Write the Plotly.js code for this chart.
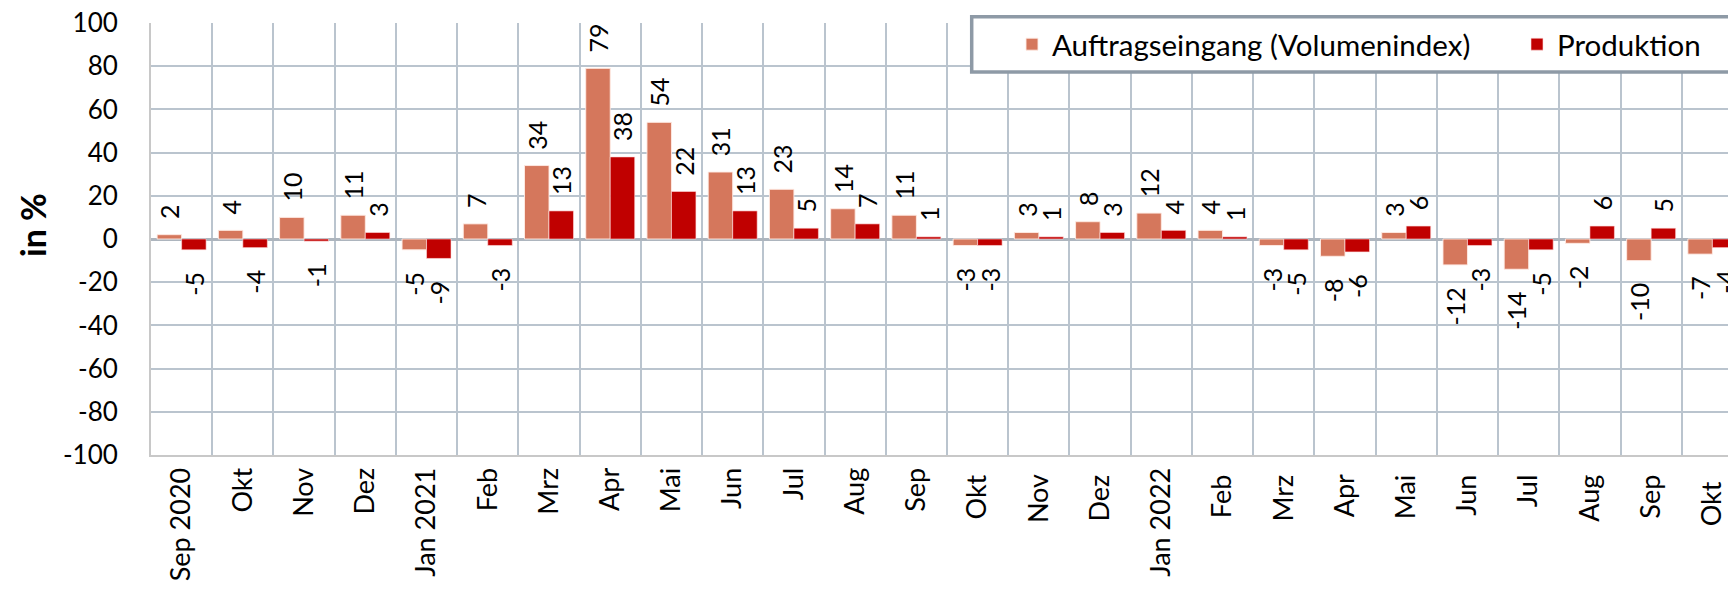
<!DOCTYPE html>
<html>
<head>
<meta charset="utf-8">
<script src="https://cdn.plot.ly/plotly-3.0.1.min.js"></script>
<style>
  html, body { margin: 0; padding: 0; overflow: hidden; background: #ffffff; }
  #chart { width: 1760px; height: 596px; }
</style>
</head>
<body>
<div id="chart"></div>
<script>
// ---- Data ----
const categories = [
  "Sep 2020", "Okt", "Nov", "Dez", "Jan 2021", "Feb", "Mrz", "Apr", "Mai", "Jun", "Jul", "Aug", "Sep",
  "Okt ", "Nov ", "Dez ", "Jan 2022", "Feb ", "Mrz ", "Apr ", "Mai ", "Jun ", "Jul ", "Aug ", "Sep ", "Okt  "
];
const auftragseingang = [2, 4, 10, 11, -5, 7, 34, 79, 54, 31, 23, 14, 11, -3, 3, 8, 12, 4, -3, -8, 3, -12, -14, -2, -10, -7];
const produktion = [-5, -4, -1, 3, -9, -3, 13, 38, 22, 13, 5, 7, 1, -3, 1, 3, 4, 1, -5, -6, 6, -3, -5, 6, 5, -4];
const seriesNames = ["Auftragseingang (Volumenindex)", "Produktion"];
const yTickVals = [-100, -80, -60, -40, -20, 0, 20, 40, 60, 80, 100];
const yTickText = ["-100", "-80", "-60", "-40", "-20", "0", "20", "40", "60", "80", "100"];
const yTitle = "in %";

// ---- Layout geometry (pixels) ----
const W = 1760, H = 596;
const M = { l: 151, r: 17, t: 23, b: 141 };
const plotW = W - M.l - M.r, plotH = H - M.t - M.b;
const px2x = p => (p - M.l) / plotW;
const px2y = p => (H - M.b - p) / plotH;

const FONT = "Lato, 'Open Sans', sans-serif";
const PAD_POS = "\u00a0\u00a0";
const PAD_NEG = "\u00a0\u00a0\u00a0";
const labelText = vals => vals.map(v => v >= 0 ? PAD_POS + v : v + PAD_NEG);

const common = {
  type: "bar",
  x: categories,
  textposition: "outside",
  textangle: -90,
  cliponaxis: false,
  constraintext: "none",
  textfont: { family: FONT, size: 25, color: "#000000" },
  hoverinfo: "x+y"
};

const traces = [
  Object.assign({}, common, {
    name: seriesNames[0],
    y: auftragseingang,
    text: labelText(auftragseingang),
    legendwidth: 460,
    marker: { color: "#d5775c", line: { color: "rgba(255,235,228,0.9)", width: 1 } }
  }),
  Object.assign({}, common, {
    name: seriesNames[1],
    y: produktion,
    text: labelText(produktion),
    marker: { color: "#c00000", line: { color: "rgba(255,220,220,0.6)", width: 1 } }
  })
];

const gridColor = "#bac4ce";

const layout = {
  width: W, height: H,
  margin: M,
  paper_bgcolor: "#ffffff",
  plot_bgcolor: "#ffffff",
  font: { family: FONT, color: "#000000" },
  barmode: "group",
  bargap: 0.2,
  bargroupgap: 0,
  showlegend: true,
  legend: {
    orientation: "h",
    x: px2x(1012), xanchor: "left",
    y: px2y(44.5), yanchor: "middle",
    bgcolor: "rgba(0,0,0,0)",
    borderwidth: 0,
    font: { family: FONT, size: 29.5, color: "#000000" },
    traceorder: "normal"
  },
  xaxis: {
    type: "category",
    range: [-0.5, categories.length - 0.5],
    tickson: "boundaries",
    showgrid: true, gridcolor: gridColor, gridwidth: 2,
    showline: true, linecolor: "#c8c8c8", linewidth: 2,
    ticks: "",
    tickangle: -90,
    tickfont: { family: FONT, size: 27, color: "#000000" },
    fixedrange: true
  },
  yaxis: {
    range: [-100, 100],
    tickmode: "array",
    tickvals: yTickVals,
    ticktext: yTickText,
    showgrid: true, gridcolor: gridColor, gridwidth: 2,
    zeroline: true, zerolinecolor: "#adb5be", zerolinewidth: 3,
    showline: true, linecolor: "#c8c8c8", linewidth: 2,
    ticks: "",
    ticklabelstandoff: 26,
    tickfont: { family: FONT, size: 26, color: "#000000" },
    fixedrange: true
  },
  shapes: [{
    type: "rect", xref: "paper", yref: "paper", layer: "above",
    x0: px2x(971.7), x1: 1.2,
    y0: px2y(72), y1: px2y(16.7),
    line: { color: "#8e9aa6", width: 3.5 },
    fillcolor: "#ffffff"
  }],
  annotations: [{
    text: "<b>" + yTitle + "</b>",
    xref: "paper", yref: "paper",
    x: px2x(32), y: px2y(225),
    xanchor: "center", yanchor: "middle",
    textangle: -90, showarrow: false,
    font: { family: FONT, size: 34, color: "#000000" }
  }]
};

Plotly.newPlot("chart", traces, layout, { displayModeBar: false, staticPlot: true });
</script>
</body>
</html>
